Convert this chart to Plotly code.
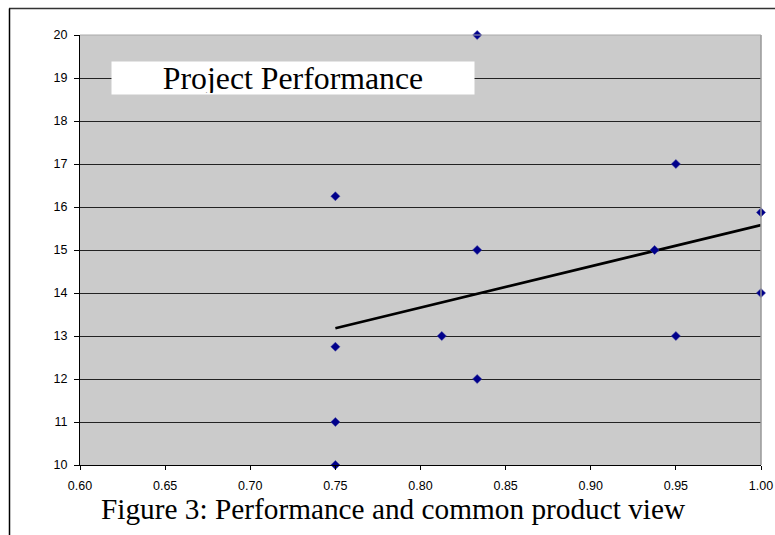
import plotly.graph_objects as go

# Data
perf_x = [0.75, 0.75, 0.75, 0.75, 0.8333, 0.8333, 0.8333, 0.8125, 0.95, 0.95, 0.9375, 1.0, 1.0]
perf_y = [16.25, 12.75, 11.0, 10.0, 20.0, 15.0, 12.0, 13.0, 17.0, 13.0, 15.0, 15.875, 14.0]
trend_x = [0.75, 1.0]
trend_y = [13.18, 15.58]
x_ticks = [0.60, 0.65, 0.70, 0.75, 0.80, 0.85, 0.90, 0.95, 1.00]
y_ticks = list(range(10, 21))

W, H = 775, 535
OFF = 0  # page body margin (removed via post_script)
L, T = 80 - OFF, 35 - OFF
R = W - (761 - OFF)
B = H - (465 - OFF)
pw, ph = W - L - R, H - T - B

def px_x(p):
    return (p - OFF - L) / pw

def px_y(p):
    return (H - B - (p - OFF)) / ph

fig = go.Figure()
fig.add_trace(go.Scatter(x=trend_x, y=trend_y, mode="lines",
                         line=dict(color="black", width=2.8), showlegend=False))
fig.add_trace(go.Scatter(x=perf_x, y=perf_y, mode="markers",
                         marker=dict(symbol="diamond", size=7, color="#00008B",
                                     line=dict(color="#3a3aa0", width=0.5)),
                         showlegend=False, cliponaxis=False))

fig.update_layout(
    width=W, height=H,
    margin=dict(l=L, r=R, t=T, b=B, pad=0, autoexpand=False),
    paper_bgcolor="white",
    plot_bgcolor="#CBCBCB",
    xaxis=dict(range=[0.6, 1.0], tickvals=x_ticks, tickformat=".2f",
               automargin=False,
               showgrid=False, zeroline=False, showline=True, linecolor="black",
               linewidth=1, ticks="outside", ticklen=4, tickcolor="black",
               ticklabelstandoff=5,
               tickfont=dict(family="Liberation Sans, Arial", size=12.5, color="black")),
    yaxis=dict(range=[10, 20], tickvals=y_ticks, automargin=False,
               showgrid=True, gridcolor="#222222", gridwidth=1,
               zeroline=False, showline=True, linecolor="black",
               linewidth=1, ticks="outside", ticklen=5, tickcolor="black",
               ticklabelstandoff=4,
               tickfont=dict(family="Liberation Sans, Arial", size=12.5, color="black")),
    shapes=[
        # plot area border (right/top)
        dict(type="line", xref="paper", yref="paper", x0=1, x1=1, y0=0, y1=1,
             line=dict(color="#999999", width=1.5)),
        dict(type="line", xref="paper", yref="paper", x0=0, x1=1, y0=1, y1=1,
             line=dict(color="#AAAAAA", width=1)),
        # outer frame
        dict(type="line", xref="paper", yref="paper", x0=px_x(9), x1=px_x(790),
             y0=px_y(8.5), y1=px_y(8.5), line=dict(color="#333333", width=1.5)),
        dict(type="line", xref="paper", yref="paper", x0=px_x(9.5), x1=px_x(9.5),
             y0=px_y(8.5), y1=px_y(545), line=dict(color="black", width=1.5)),
    ],
    annotations=[
        dict(text="Project Performance", xref="paper", yref="paper",
             x=px_x(293), y=px_y(78), xanchor="center", yanchor="middle",
             showarrow=False, bgcolor="white", width=360, height=30,
             font=dict(family="Liberation Serif, serif", size=31.8, color="black")),
        dict(text="Figure 3: Performance and common product view", xref="paper", yref="paper",
             x=px_x(393), y=px_y(509), xanchor="center", yanchor="middle",
             showarrow=False,
             font=dict(family="Liberation Serif, serif", size=29.3, color="black")),
    ],
)

fig.write_html("out.html", config={"displayModeBar": False},
               post_script="document.body.style.margin='0';document.body.style.overflow='hidden';")
